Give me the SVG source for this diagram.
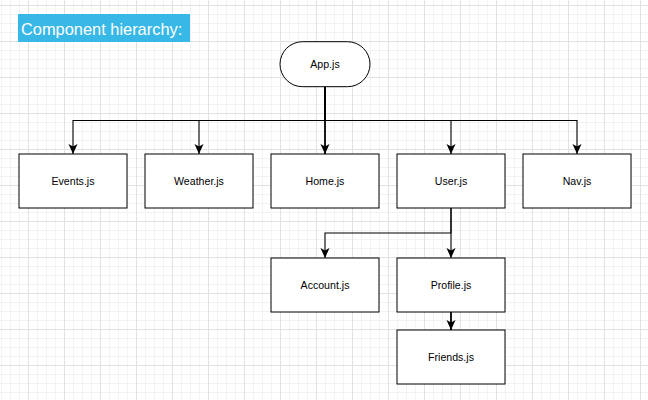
<svg xmlns="http://www.w3.org/2000/svg" width="648" height="400" viewBox="0 0 648 400">
  <defs>
    <pattern id="grid" x="28" y="5" width="36" height="36" patternUnits="userSpaceOnUse">
      <path d="M9.5,0 V36 M18.5,0 V36 M27.5,0 V36 M0,9.5 H36 M0,18.5 H36 M0,27.5 H36" stroke="#f3f3f3" stroke-width="1" fill="none"/>
      <path d="M0.5,0 V36 M0,0.5 H36" stroke="#e2e2e2" stroke-width="1" fill="none"/>
    </pattern>
    <marker id="arrow" markerUnits="userSpaceOnUse" markerWidth="10" markerHeight="10" viewBox="0 0 8 8" refX="8" refY="4" orient="auto">
      <path d="M0,0.4 L8,4 L0,7.6 L2,4 z" fill="#000"/>
    </marker>
    <style>
      .node rect { fill: #ffffff; stroke: #000000; stroke-width: 1; }
      .node text { font-family: "Liberation Sans", Arial, Helvetica, sans-serif; font-size: 10.6px; fill: #000000; text-anchor: middle; }
      .edge { fill: none; stroke: #000000; stroke-width: 1.1; marker-end: url(#arrow); }
      .edge.thick { stroke-width: 1.8; }
    </style>
  </defs>
  <rect x="0" y="0" width="648" height="400" fill="#ffffff"/>
  <rect x="0" y="0" width="648" height="400" fill="url(#grid)"/>

  <g id="title">
    <rect x="18" y="14" width="172" height="28" fill="#37b8e6"/>
    <text x="21" y="35" font-family="Liberation Sans, Arial, Helvetica, sans-serif" font-size="16.4" fill="#ffffff">Component hierarchy:</text>
  </g>

  <g id="connectors">
    <path class="edge" d="M325,86.7 V120.5 H73 V154"/>
    <path class="edge" d="M325,86.7 V120.5 H199 V154"/>
    <path class="edge thick" d="M325,86.7 V154"/>
    <path class="edge" d="M325,86.7 V120.5 H451 V154"/>
    <path class="edge" d="M325,86.7 V120.5 H577 V154"/>
    <path class="edge" d="M451,208 V233 H325 V258"/>
    <path class="edge" d="M451,208 V258"/>
    <path class="edge thick" d="M451,312 V330"/>
  </g>

  <g id="app" class="node">
    <rect x="280" y="41.7" width="90" height="45" rx="22.5" ry="22.5"/>
    <text x="325" y="67.6">App.js</text>
  </g>
  <g id="events" class="node">
    <rect x="19" y="154" width="108" height="54"/>
    <text x="73" y="184.8">Events.js</text>
  </g>
  <g id="weather" class="node">
    <rect x="145" y="154" width="108" height="54"/>
    <text x="199" y="184.8">Weather.js</text>
  </g>
  <g id="home" class="node">
    <rect x="271" y="154" width="108" height="54"/>
    <text x="325" y="184.8">Home.js</text>
  </g>
  <g id="user" class="node">
    <rect x="397" y="154" width="108" height="54"/>
    <text x="451" y="184.8">User.js</text>
  </g>
  <g id="nav" class="node">
    <rect x="523" y="154" width="108" height="54"/>
    <text x="577" y="184.8">Nav.js</text>
  </g>
  <g id="account" class="node">
    <rect x="271" y="258" width="108" height="54"/>
    <text x="325" y="288.8">Account.js</text>
  </g>
  <g id="profile" class="node">
    <rect x="397" y="258" width="108" height="54"/>
    <text x="451" y="288.8">Profile.js</text>
  </g>
  <g id="friends" class="node">
    <rect x="397" y="330" width="108" height="54"/>
    <text x="451" y="360.8">Friends.js</text>
  </g>
</svg>
